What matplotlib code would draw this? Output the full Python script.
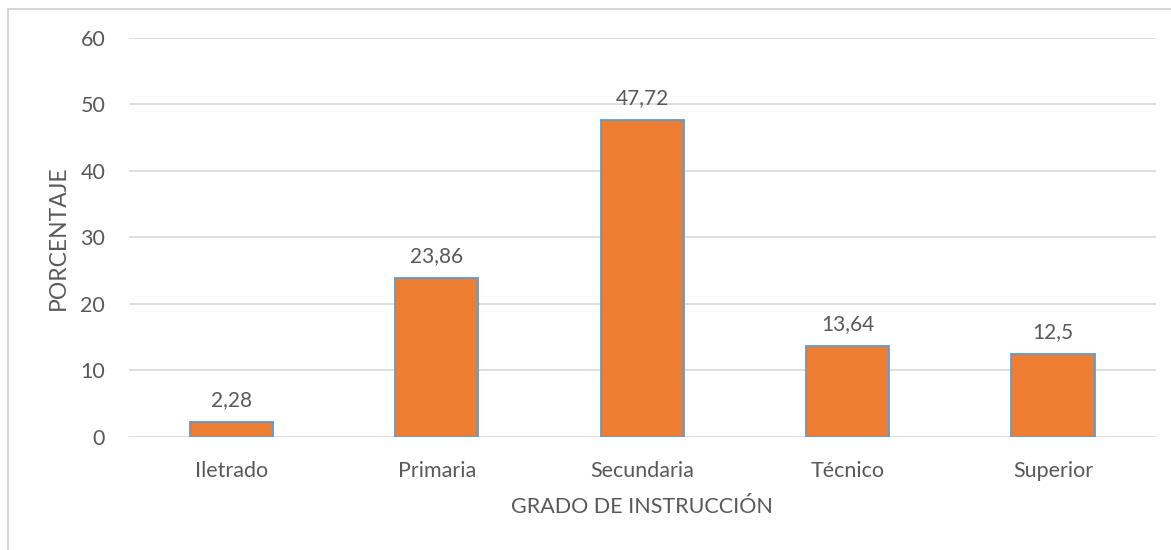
import matplotlib.pyplot as plt
from matplotlib.patches import Rectangle

# Datos del gráfico
categorias = ['Iletrado', 'Primaria', 'Secundaria', 'Técnico', 'Superior']
porcentajes = [2.28, 23.86, 47.72, 13.64, 12.5]
etiquetas = ['2,28', '23,86', '47,72', '13,64', '12,5']
ticks_y = [0, 10, 20, 30, 40, 50, 60]

gris = '#595959'
plt.rcParams['font.family'] = ['Lato', 'DejaVu Sans']

fig = plt.figure(figsize=(11.71, 5.5), dpi=100)
ax = fig.add_axes([0.110, 0.2055, 0.877, 0.7255])

# Marco del gráfico
fig.patches.append(Rectangle((8 / 1171, -0.1), 1.2, 1 - 9 / 550 + 0.1,
                             transform=fig.transFigure, fill=False,
                             edgecolor='#D0D0D0', linewidth=1.2))

x = range(len(categorias))
ax.bar(x, porcentajes, width=0.405, color='#ED7D31', edgecolor='#5B9BD5',
       linewidth=1.3, zorder=3)

for xi, v, t in zip(x, porcentajes, etiquetas):
    ax.text(xi, v + 2.4, t, ha='center', va='baseline', fontsize=15, color=gris)

ax.set_xlim(-0.5, len(categorias) - 0.5)
ax.set_ylim(0, 60)
ax.set_yticks(ticks_y)
ax.set_xticks(list(x))
ax.set_xticklabels(categorias)
ax.tick_params(length=0, labelsize=15.5, labelcolor=gris)
ax.tick_params(axis='y', pad=17)
ax.tick_params(axis='x', pad=17)
ax.grid(axis='y', color='#D9D9D9', linewidth=1.2, zorder=0)
for s in ax.spines.values():
    s.set_visible(False)

ax.set_xlabel('GRADO DE INSTRUCCIÓN', fontsize=15.5, color=gris, labelpad=12)
ax.set_ylabel('PORCENTAJE', fontsize=16.5, color=gris)
ax.yaxis.set_label_coords(-60 / 1027, 0.5)

fig.savefig('out.png', dpi=100)
